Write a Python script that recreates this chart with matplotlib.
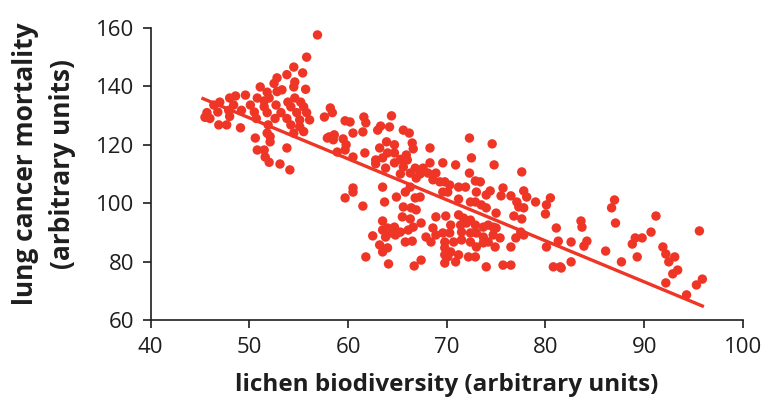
import matplotlib
matplotlib.use("Agg")
import matplotlib.pyplot as plt

# values, left cluster first, then to the right
lichen = [
    56.9, 55.8, 54.5, 55.4, 53.8, 52.8, 54.6, 52.5, 54.5, 55.7, 51.1, 53.3,
    52.8, 51.8, 54.6, 52.0, 49.6, 48.6, 48.0, 50.8, 51.5, 55.2, 53.9, 47.0,
    46.4, 48.4, 50.1, 51.5, 54.2, 55.5, 52.7, 50.5, 49.2, 47.9, 46.8, 45.7,
    51.8, 53.2, 54.8, 55.8, 57.6, 58.4, 58.2, 45.5, 46.0, 48.0, 50.7, 52.6,
    53.8, 55.1, 56.1, 46.9, 47.7, 49.1, 51.9, 54.2, 55.1, 51.8, 54.5, 55.5,
    50.6, 52.1, 52.1, 57.9, 58.5, 50.8, 51.5, 53.8, 51.6, 52.0, 53.1, 54.1,
    64.4, 61.6, 61.8, 59.7, 60.2, 63.3, 64.2, 63.0, 60.5, 61.5, 65.6, 66.2,
    58.6, 59.5, 63.9, 64.7, 66.5, 59.8, 63.2, 68.3, 58.9, 61.7, 64.0, 64.7,
    66.6, 65.9, 60.5, 62.8, 63.5, 65.3, 66.0, 64.7, 62.8, 68.3, 69.6, 63.8,
    65.6, 66.8, 67.6, 66.3, 65.3, 67.3, 68.1, 68.9, 68.6, 69.3, 66.9, 60.5,
    63.5, 66.3, 58.1, 59.7,
    59.7, 60.5, 61.5, 63.7, 64.9, 65.8, 66.8, 67.3, 65.6, 66.4, 66.9, 65.5,
    66.3, 63.5, 67.4, 68.9, 64.0, 64.7, 65.3, 64.3, 64.8, 63.5, 66.1, 66.6,
    68.6, 68.9, 67.9, 62.5, 63.8, 65.8, 66.5, 68.4, 63.2, 64.0, 63.5, 69.8,
    61.8, 67.4, 66.7, 64.1, 69.8, 69.8,
    72.3, 74.6, 70.9, 72.5, 74.8, 72.3, 77.6, 72.9, 73.4, 69.8, 70.3, 71.2,
    71.9, 69.6, 70.1, 73.0, 74.4, 74.0, 75.7, 75.5, 76.5, 77.8, 78.1, 77.1,
    79.0, 80.5, 80.1, 71.2, 72.4, 72.9, 73.5, 74.0, 77.8, 77.3, 80.0, 69.9,
    71.2, 71.7, 72.4, 75.0, 76.8, 77.6, 70.4, 71.4, 72.0, 72.9, 73.7, 74.2,
    74.7, 75.0, 69.6, 70.3, 71.5, 72.4, 73.0, 73.7, 74.7, 75.4, 77.0, 77.8,
    77.5, 81.1, 70.7, 71.5, 72.4, 73.0, 73.7, 74.2, 74.9, 76.5, 80.1, 69.8,
    70.4, 71.2, 70.1, 70.9, 72.2, 72.9, 74.0, 75.7, 76.5, 80.8, 81.5,
    87.0, 86.7, 87.1, 91.2, 95.6, 83.6, 83.7, 90.7, 81.3, 82.6, 84.2, 83.9,
    89.1, 89.8, 88.8, 86.1, 91.9, 92.2, 93.1, 92.5, 81.6, 82.6, 87.7, 89.3,
    93.4, 92.9, 92.2, 94.3, 95.3, 95.9,
]
mortality = [
    157.6, 150.0, 146.6, 144.6, 144.0, 142.9, 141.5, 141.0, 139.8, 139.0, 139.8, 138.8,
    138.2, 138.0, 136.0, 136.0, 137.0, 136.7, 136.0, 136.0, 135.0, 134.6, 134.6, 134.6,
    133.6, 133.6, 133.6, 133.0, 133.0, 133.0, 133.6, 131.2, 131.8, 131.8, 131.2, 131.0,
    131.0, 131.0, 131.0, 131.0, 129.5, 131.0, 132.6, 129.4, 129.0, 129.7, 129.0, 129.0,
    129.0, 128.5, 128.5, 126.8, 126.8, 125.8, 126.8, 126.8, 126.2, 124.0, 124.0, 124.5,
    122.3, 122.8, 121.0, 122.3, 121.7, 118.2, 118.2, 118.9, 115.8, 114.0, 113.4, 111.4,
    129.9, 129.5, 127.5, 128.2, 127.8, 126.4, 126.1, 125.0, 124.0, 124.4, 125.0, 124.0,
    123.4, 122.0, 121.0, 120.0, 120.6, 120.0, 118.9, 118.9, 117.5, 117.2, 117.2, 117.2,
    118.6, 116.5, 115.8, 114.8, 115.5, 115.0, 114.8, 113.8, 113.5, 113.8, 113.8, 112.0,
    112.4, 112.0, 112.0, 110.3, 110.0, 110.0, 110.3, 110.3, 108.0, 107.3, 108.6, 105.2,
    105.5, 105.5, 122.7, 118.2,
    101.8, 103.8, 99.0, 100.4, 102.1, 103.8, 101.8, 102.1, 98.7, 98.4, 97.7, 95.3,
    94.6, 93.9, 93.2, 95.3, 91.5, 91.8, 90.1, 89.8, 89.1, 90.8, 90.8, 91.8,
    91.5, 89.1, 88.4, 88.8, 88.4, 86.7, 87.0, 86.7, 85.7, 84.7, 83.3, 86.7,
    81.6, 80.5, 78.5, 79.2, 82.3, 79.5,
    122.3, 120.3, 113.1, 115.5, 113.1, 110.3, 110.7, 107.6, 107.3, 107.3, 106.2, 105.5,
    105.5, 103.8, 103.8, 103.8, 104.2, 102.8, 105.2, 102.5, 102.5, 104.2, 102.1, 100.4,
    100.4, 101.8, 99.4, 101.4, 100.4, 100.4, 99.4, 98.4, 98.4, 98.7, 96.3, 95.6,
    96.0, 94.9, 94.2, 96.6, 95.6, 94.6, 92.5, 92.5, 93.2, 92.5, 91.8, 92.5,
    91.8, 91.5, 89.8, 89.8, 90.1, 89.8, 89.8, 88.4, 89.1, 88.1, 88.1, 89.1,
    90.1, 91.5, 86.7, 87.4, 86.7, 85.0, 86.4, 86.7, 85.0, 85.0, 85.0, 84.7,
    83.3, 82.3, 81.6, 79.9, 81.6, 81.6, 78.2, 78.8, 78.8, 78.2, 78.2,
    101.1, 98.4, 93.2, 95.6, 90.5, 93.9, 91.8, 90.1, 87.0, 86.7, 87.0, 85.3,
    88.1, 88.1, 86.0, 83.6, 85.0, 82.6, 81.6, 79.9, 77.8, 79.9, 79.9, 81.6,
    77.1, 75.8, 72.7, 68.6, 72.0, 74.0,
]

# fitted trend line, end points
fit_x = [45.3, 95.9]
fit_y = [135.8, 64.8]

red = "#ee3526"
ink = "#1e1e1e"

plt.rcParams["font.family"] = ["Open Sans", "DejaVu Sans"]

fig = plt.figure(figsize=(7.65, 3.99), dpi=100)
ax = fig.add_axes([0.197, 0.198, 0.774, 0.732])

ax.scatter(lichen, mortality, s=46, color=red, edgecolors="none", zorder=3)
ax.plot(fit_x, fit_y, color=red, linewidth=2.4, zorder=2)

ax.set_xlim(40, 100)
ax.set_ylim(60, 160)
ax.set_xticks([40, 50, 60, 70, 80, 90, 100])
ax.set_yticks([60, 80, 100, 120, 140, 160])

for side in ["top", "right"]:
    ax.spines[side].set_visible(False)
for side in ["left", "bottom"]:
    ax.spines[side].set_linewidth(1.2)
    ax.spines[side].set_color(ink)
ax.tick_params(direction="out", length=6, width=1.2, color=ink,
               labelsize=16, pad=6, labelcolor=ink)

ax.set_xlabel("lichen biodiversity (arbitrary units)", fontsize=17.5,
              fontweight="bold", labelpad=11, color=ink)
ax.set_ylabel("lung cancer mortality\n(arbitrary units)", fontsize=19,
              fontweight="bold", labelpad=14, color=ink, linespacing=1.5)
ax.yaxis.label.set_y(0.535)

fig.savefig("out.png", dpi=100)
